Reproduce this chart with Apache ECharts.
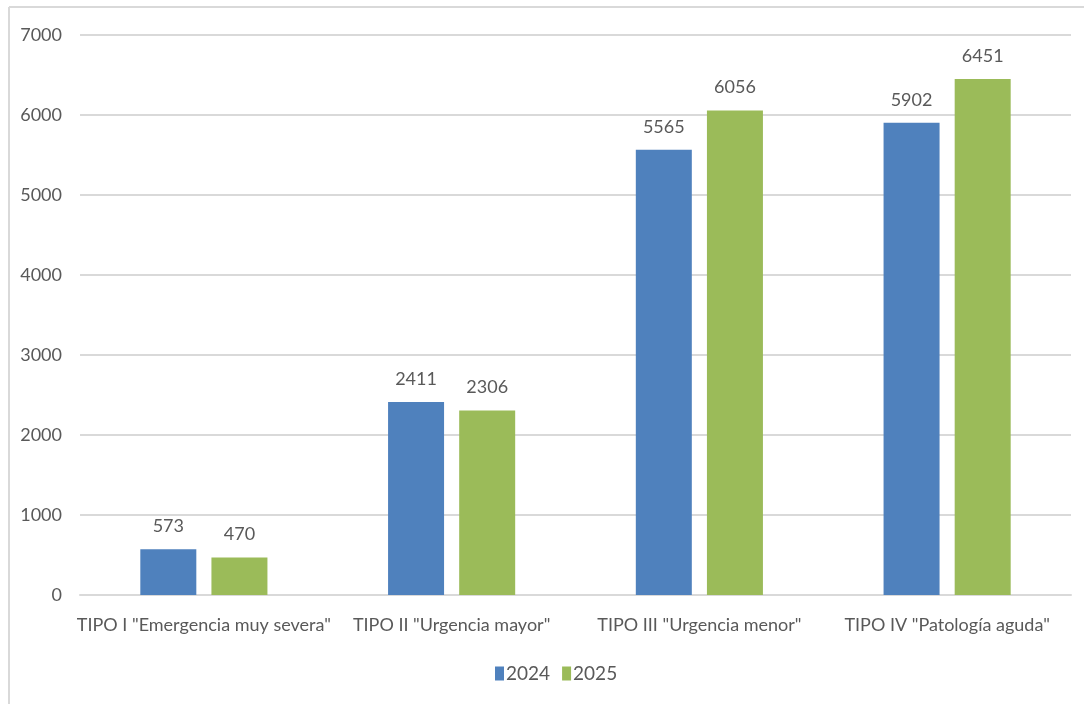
<!DOCTYPE html>
<html>
<head>
<meta charset="utf-8">
<script src="https://cdn.jsdelivr.net/npm/echarts@6/dist/echarts.min.js"></script>
<style>
  html, body { margin: 0; padding: 0; background: #fff; }
  #main { width: 1084px; height: 704px; }
</style>
</head>
<body>
<div id="main"></div>
<script>
var categories = [
  'TIPO I "Emergencia muy severa"',
  'TIPO II "Urgencia mayor"',
  'TIPO III "Urgencia menor"',
  'TIPO IV "Patología aguda"'
];
var values2024 = [573, 2411, 5565, 5902];
var values2025 = [470, 2306, 6056, 6451];

var myChart = echarts.init(document.getElementById('main'));

var fontFam = 'Lato, "Liberation Sans", sans-serif';
var textGray = '#595959';

var seriesLabel = {
  show: true,
  position: 'top',
  distance: 14,
  color: textGray,
  fontFamily: fontFam,
  fontSize: 18
};

var option = {
  animation: false,
  backgroundColor: '#fff',
  textStyle: { fontFamily: fontFam },
  graphic: [
    {
      type: 'line',
      shape: { x1: 9, y1: 7, x2: 1084, y2: 7 },
      style: { stroke: '#d9d9d9', lineWidth: 2 }
    },
    {
      type: 'line',
      shape: { x1: 9, y1: 7, x2: 9, y2: 704 },
      style: { stroke: '#d9d9d9', lineWidth: 2 }
    }
  ],
  legend: {
    data: ['2024', '2025'],
    bottom: 16,
    left: 490,
    itemWidth: 9,
    itemHeight: 14,
    itemGap: 12,
    icon: 'rect',
    textStyle: { color: textGray, fontSize: 19, fontFamily: fontFam, padding: [0, 0, 0, -3] }
  },
  grid: {
    left: 80,
    right: 13,
    top: 35,
    bottom: 109
  },
  xAxis: {
    type: 'category',
    data: categories,
    axisLine: { lineStyle: { color: '#d9d9d9', width: 2 } },
    axisTick: { show: false },
    axisLabel: {
      color: textGray,
      fontSize: 18,
      fontFamily: fontFam,
      margin: 21,
      interval: 0
    }
  },
  yAxis: {
    type: 'value',
    min: 0,
    max: 7000,
    interval: 1000,
    axisLine: { show: false },
    axisTick: { show: false },
    axisLabel: {
      color: textGray,
      fontSize: 18,
      fontFamily: fontFam,
      margin: 18,
      formatter: function (v) { return String(v); }
    },
    splitLine: { lineStyle: { color: '#d9d9d9', width: 2 } }
  },
  series: [
    {
      name: '2024',
      type: 'bar',
      data: values2024,
      barWidth: 56,
      barGap: '27%',
      itemStyle: { color: '#4f81bd' },
      label: seriesLabel
    },
    {
      name: '2025',
      type: 'bar',
      data: values2025,
      barWidth: 56,
      barGap: '27%',
      itemStyle: { color: '#9bbb59' },
      label: seriesLabel
    }
  ]
};

myChart.setOption(option);
</script>
</body>
</html>
